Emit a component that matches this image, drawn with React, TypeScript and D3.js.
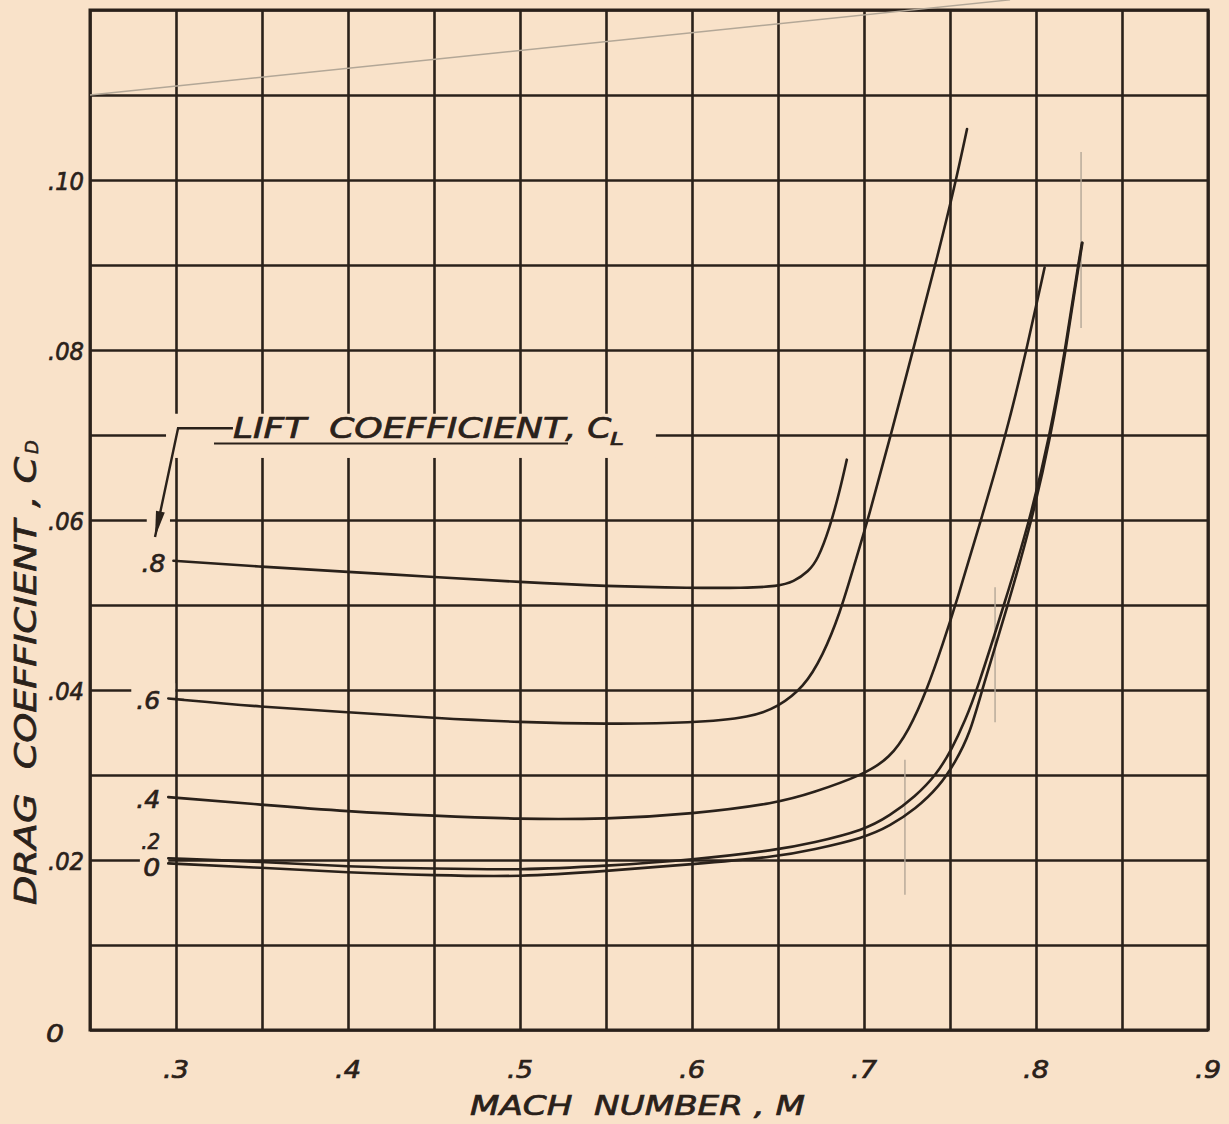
import { useRef, useEffect } from "react";
import * as d3 from "d3";

// grid / ticks
const machGrid = [0.25, 0.3, 0.35, 0.4, 0.45, 0.5, 0.55, 0.6, 0.65, 0.7, 0.75, 0.8, 0.85, 0.9];
const cdGrid = [0, 0.01, 0.02, 0.03, 0.04, 0.05, 0.06, 0.07, 0.08, 0.09, 0.1, 0.11, 0.12];
const machTicks = [0.3, 0.4, 0.5, 0.6, 0.7, 0.8, 0.9];
const machTickLabels = [".3", ".4", ".5", ".6", ".7", ".8", ".9"];
const cdTicks = [0, 0.02, 0.04, 0.06, 0.08, 0.1];
const cdTickLabels = ["0", ".02", ".04", ".06", ".08", ".10"];

// lift coefficient curves, [mach, cd]
const liftLabels = [".8", ".6", ".4", ".2", "0"];
const cl08: [number, number][] = [
  [0.2985, 0.0552], [0.35, 0.0545], [0.4, 0.0539], [0.45, 0.0533], [0.5, 0.0527],
  [0.55, 0.0522], [0.6, 0.052], [0.63, 0.052], [0.65, 0.0522], [0.659, 0.0527],
  [0.668, 0.054], [0.673, 0.0553], [0.68, 0.059], [0.686, 0.0635], [0.69, 0.0671],
];
const cl06: [number, number][] = [
  [0.2955, 0.039], [0.35, 0.038], [0.4, 0.0374], [0.45, 0.0367], [0.5, 0.0362],
  [0.55, 0.036], [0.6, 0.0361], [0.635, 0.0368], [0.65, 0.038], [0.665, 0.0403],
  [0.676, 0.044], [0.686, 0.049], [0.694, 0.0545], [0.7023, 0.06], [0.716, 0.0703],
  [0.7295, 0.0808], [0.743, 0.0912], [0.753, 0.0995], [0.7599, 0.106],
];
const cl04: [number, number][] = [
  [0.2955, 0.0274], [0.35, 0.0265], [0.4, 0.0257], [0.45, 0.0252], [0.5, 0.0248],
  [0.55, 0.0248], [0.6, 0.0254], [0.65, 0.0267], [0.67, 0.0279], [0.6994, 0.03],
  [0.7151, 0.032], [0.726, 0.0352], [0.7366, 0.04], [0.746, 0.0455], [0.754, 0.0505],
  [0.768, 0.06], [0.7825, 0.07], [0.7945, 0.08], [0.805, 0.0897],
];
const cl02: [number, number][] = [
  [0.2955, 0.0202], [0.35, 0.0198], [0.4, 0.0192], [0.45, 0.019], [0.5, 0.0188],
  [0.55, 0.0193], [0.6, 0.02], [0.65, 0.0212], [0.67, 0.022], [0.7, 0.0235],
  [0.715, 0.0252], [0.73, 0.0275], [0.742, 0.03], [0.751, 0.033], [0.759, 0.0365],
  [0.7657, 0.04], [0.7814, 0.05], [0.7965, 0.06], [0.8081, 0.07], [0.817, 0.08],
  [0.8245, 0.09], [0.8267, 0.0926],
];
const cl00: [number, number][] = [
  [0.2955, 0.0196], [0.35, 0.0191], [0.4, 0.0185], [0.45, 0.0182], [0.5, 0.018],
  [0.55, 0.0187], [0.6, 0.0195], [0.65, 0.0204], [0.67, 0.0212], [0.7, 0.0226],
  [0.715, 0.024], [0.73, 0.026], [0.744, 0.0287], [0.753, 0.0315], [0.7615, 0.0348],
  [0.7686, 0.04], [0.7837, 0.05], [0.7977, 0.06], [0.8087, 0.07], [0.8174, 0.08],
  [0.8248, 0.09], [0.827, 0.0926],
];
const curves = [cl08, cl06, cl04, cl02, cl00];

// faint pencil marks left on the sheet, [mach, cd] end points
const pencilMarks: [number, number][][] = [
  [[0.25, 0.11], [0.7849, 0.1212]],
  [[0.8262, 0.1033], [0.8262, 0.0826]],
  [[0.7762, 0.0521], [0.7762, 0.0362]],
  [[0.7238, 0.0318], [0.7238, 0.0159]],
];

const paper = "#f9e2c9";
const ink = "#2a211a";
const font = "'DejaVu Sans', sans-serif";

function DragChart() {
  const ref = useRef<SVGSVGElement | null>(null);
  const width = 1229;
  const height = 1124;

  useEffect(() => {
    if (!ref.current) return;
    const margin = { top: 10, right: 21, bottom: 94, left: 90 };
    const innerW = width - margin.left - margin.right;
    const innerH = height - margin.top - margin.bottom;

    const svg = d3.select(ref.current).html("");
    svg.append("rect").attr("width", width).attr("height", height).attr("fill", paper);

    const x = d3.scaleLinear().domain([0.25, 0.9]).range([margin.left, margin.left + innerW]);
    const y = d3.scaleLinear().domain([0, 0.12]).range([margin.top + innerH, margin.top]);

    // grid
    const gx = svg
      .append("g")
      .attr("transform", `translate(0,${y(0)})`)
      .call(d3.axisBottom(x).tickValues(machGrid).tickSize(-innerH).tickFormat(() => ""));
    const gy = svg
      .append("g")
      .attr("transform", `translate(${x(0.25)},0)`)
      .call(d3.axisLeft(y).tickValues(cdGrid).tickSize(-innerW).tickFormat(() => ""));
    [gx, gy].forEach((g) => {
      g.select(".domain").remove();
      g.selectAll("line").attr("stroke", ink).attr("stroke-width", 2.6);
    });
    svg
      .append("rect")
      .attr("x", x(0.25))
      .attr("y", y(0.12))
      .attr("width", innerW)
      .attr("height", innerH)
      .attr("fill", "none")
      .attr("stroke", ink)
      .attr("stroke-width", 3);

    // paper patches where the grid was left blank for lettering
    const patch = (m0: number, m1: number, c0: number, c1: number) =>
      svg
        .append("rect")
        .attr("x", x(m0))
        .attr("y", y(c1))
        .attr("width", x(m1) - x(m0))
        .attr("height", y(c0) - y(c1))
        .attr("fill", paper);
    patch(0.2942, 0.579, 0.0673, 0.0725);
    patch(0.283, 0.2965, 0.0593, 0.0607);
    patch(0.274, 0.2995, 0.0393, 0.0408);
    patch(0.279, 0.2955, 0.0192, 0.0208);

    // pencil marks
    pencilMarks.forEach((pts) => {
      svg
        .append("line")
        .attr("x1", x(pts[0][0]))
        .attr("y1", y(pts[0][1]))
        .attr("x2", x(pts[1][0]))
        .attr("y2", y(pts[1][1]))
        .attr("stroke", "#b3a797")
        .attr("stroke-width", 1.4);
    });

    // curves
    const line = d3
      .line<[number, number]>()
      .curve(d3.curveBasis)
      .x((d) => x(d[0]))
      .y((d) => y(d[1]));
    curves.forEach((pts) => {
      svg
        .append("path")
        .datum(pts)
        .attr("fill", "none")
        .attr("stroke", ink)
        .attr("stroke-width", 2.6)
        .attr("stroke-linecap", "round")
        .attr("d", line as any);
    });

    const txt = (
      s: string,
      px: number,
      py: number,
      size: number,
      anchor: string,
      len?: number
    ) => {
      const t = svg
        .append("text")
        .attr("x", px)
        .attr("y", py)
        .attr("font-family", font)
        .attr("font-style", "italic")
        .attr("font-size", size)
        .attr("fill", ink)
        .attr("stroke", ink)
        .attr("stroke-width", 0.7)
        .attr("text-anchor", anchor)
        .style("white-space", "pre")
        .text(s);
      if (len) t.attr("textLength", len).attr("lengthAdjust", "spacingAndGlyphs");
      return t;
    };

    // curve labels
    const labelNudge = [11, 10, 11, -9, 13];
    const labelSize = [25, 25, 25, 21, 25];
    curves.forEach((pts, i) => {
      txt(
        liftLabels[i],
        x(pts[0][0]) - 8,
        y(pts[0][1]) + labelNudge[i],
        labelSize[i],
        "end",
        liftLabels[i].length > 1 ? (i === 3 ? 19 : 24) : 17
      );
    });

    // tick labels
    machTicks.forEach((m, i) => {
      txt(machTickLabels[i], x(m), y(0) + 48, 25, "middle", 26);
    });
    cdTicks.forEach((c, i) => {
      if (c === 0) txt(cdTickLabels[i], 55, y(c) + 12, 25, "middle", 18);
      else txt(cdTickLabels[i], 84, y(c) + 10, 25, "end", 36);
    });

    // axis titles
    txt("MACH  NUMBER , M", 470, 1115, 26, "start", 335);
    const yl = svg.append("g").attr("transform", `translate(36,905) rotate(-90)`);
    yl.append("text")
      .attr("font-family", font)
      .attr("font-style", "italic")
      .attr("font-size", 30)
      .attr("fill", ink)
      .attr("stroke", ink)
      .attr("stroke-width", 0.7)
      .style("white-space", "pre")
      .attr("textLength", 448)
      .attr("lengthAdjust", "spacingAndGlyphs")
      .text("DRAG  COEFFICIENT , C");
    yl.append("text")
      .attr("x", 451)
      .attr("y", 2)
      .attr("font-family", font)
      .attr("font-style", "italic")
      .attr("font-size", 18)
      .attr("fill", ink)
      .attr("stroke", ink)
      .attr("stroke-width", 0.5)
      .text("D");

    // lift coefficient annotation
    txt("LIFT  COEFFICIENT", x(0.3331), y(0.0697), 28, "start", 332);
    txt(", C", x(0.5263), y(0.0697), 28, "start", 46);
    txt("L", x(0.5524), y(0.0688), 18, "start", 14);
    svg
      .append("line")
      .attr("x1", x(0.3221))
      .attr("x2", x(0.5279))
      .attr("y1", y(0.069))
      .attr("y2", y(0.069))
      .attr("stroke", ink)
      .attr("stroke-width", 2.2);

    const corner: [number, number] = [x(0.3012), y(0.0708)];
    const tip: [number, number] = [x(0.2878), y(0.058)];
    svg
      .append("polyline")
      .attr("points", [[x(0.3331), y(0.0708)], corner, tip].map((p) => p.join(",")).join(" "))
      .attr("fill", "none")
      .attr("stroke", ink)
      .attr("stroke-width", 2.4);
    const dx = tip[0] - corner[0];
    const dy = tip[1] - corner[1];
    const len = Math.hypot(dx, dy);
    const ux = dx / len;
    const uy = dy / len;
    const bx = tip[0] - ux * 26;
    const by = tip[1] - uy * 26;
    svg
      .append("path")
      .attr(
        "d",
        `M${tip[0]},${tip[1]} L${bx - uy * 4.5},${by + ux * 4.5} L${bx + uy * 4.5},${by - ux * 4.5} Z`
      )
      .attr("fill", ink);
  }, []);

  return <svg ref={ref} width={width} height={height} style={{ display: "block" }}></svg>;
}

export default function App() {
  return (
    <div style={{ position: "fixed", left: 0, top: 0, width: 1229, height: 1124, background: paper }}>
      <DragChart />
    </div>
  );
}
